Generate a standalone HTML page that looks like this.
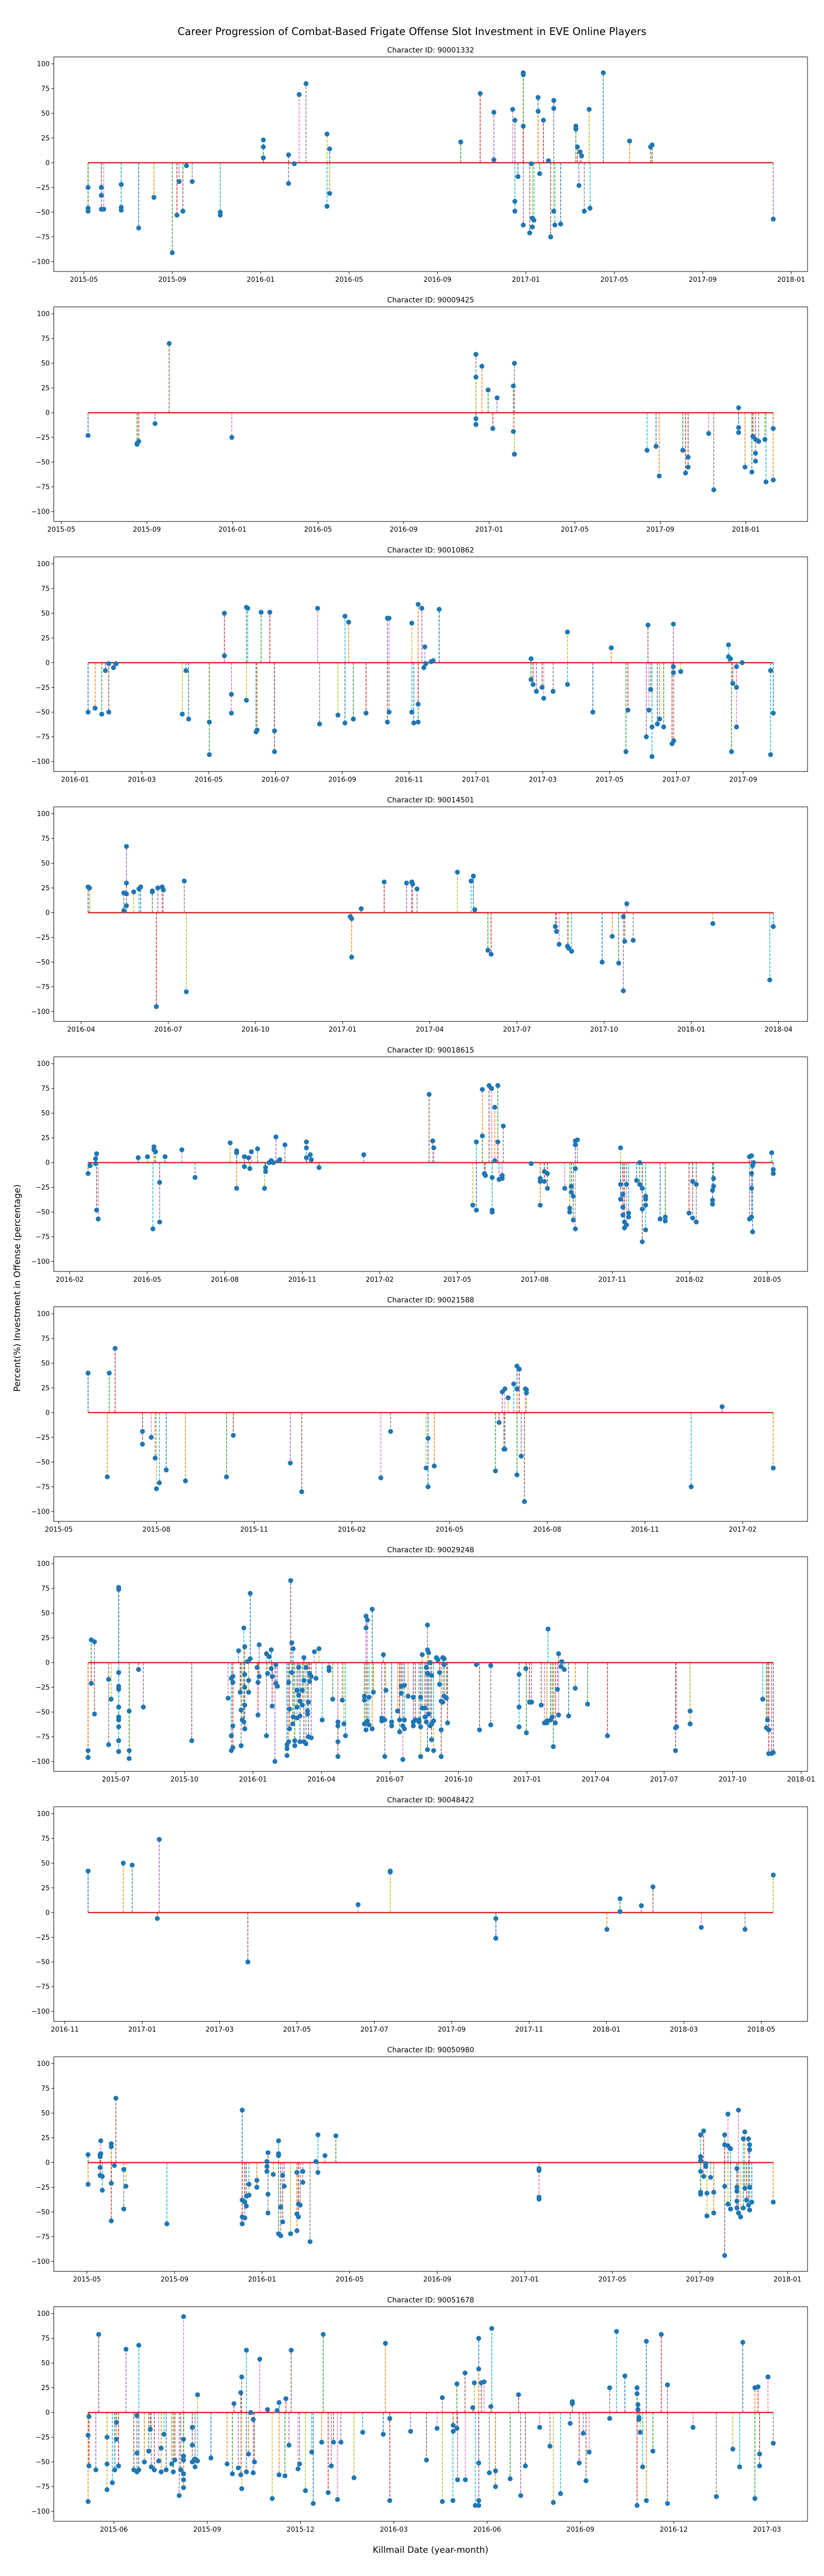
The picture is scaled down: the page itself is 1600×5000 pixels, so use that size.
<!DOCTYPE html>
<html>
<head>
<meta charset="utf-8">
<title>Career Progression of Combat-Based Frigate Offense Slot Investment</title>
<style>
  html, body { margin: 0; padding: 0; background: #ffffff; }
  svg { display: block; }
  text { font-family: "DejaVu Sans", "Liberation Sans", sans-serif; fill: #000; }
</style>
</head>
<body>
<svg id="fig" width="1600" height="5000" viewBox="0 0 1600 5000" xmlns="http://www.w3.org/2000/svg">
  <rect x="0" y="0" width="1600" height="5000" fill="#ffffff"/>
  <text x="800" y="68" font-size="20" text-anchor="middle">Career Progression of Combat-Based Frigate Offense Slot Investment in EVE Online Players</text>
  <text x="836" y="4955" font-size="17" text-anchor="middle">Killmail Date (year-month)</text>
  <text x="34" y="2500" font-size="17" text-anchor="middle" dominant-baseline="central" transform="rotate(-90 34 2500)">Percent(%) Investment in Offense (percentage)</text>
</svg>
<script>
// x values: months since 2015-01 (e.g. 4.5 = mid May 2015); y values: percent offense investment
const s1Ids = "90001332";
const s1Months = [4.19,4.19,4.19,4.79,4.79,4.79,4.90,5.69,5.69,5.69,6.48,7.17,8.0,8.21,8.31,8.48,8.64,8.90,10.17,10.17,12.12,12.12,12.12,13.26,13.26,13.52,13.74,14.05,15.0,15.0,15.12,15.12,21.05,21.93,22.55,22.55,23.40,23.5,23.5,23.5,23.64,23.88,23.88,23.88,23.88,24.17,24.24,24.29,24.29,24.36,24.55,24.55,24.62,24.79,25.02,25.12,25.26,25.26,25.26,25.31,25.57,26.26,26.26,26.33,26.40,26.45,26.52,26.64,26.86,26.90,27.50,28.69,29.64,29.71,35.19];
const s1Values = [-25,-46,-49,-25,-47,-33,-47,-48,-22,-45,-66,-35,-91,-53,-19,-49,-3,-19,-50,-53,5,16,23,8,-21,-1,69,80,29,-44,14,-31,21,70,51,3,54,43,-39,-49,-14,91,89,37,-63,-71,-1,-56,-65,-58,66,52,-11,43,2,-75,55,63,-49,-63,-62,37,34,16,-23,11,7,-49,54,-46,91,22,16,18,-57];
const s1Ticks = ["2015-05","2015-09","2016-01","2016-05","2016-09","2017-01","2017-05","2017-09","2018-01"];

const s2Ids = "90009425";
const s2Months = [5.25,7.54,7.54,7.62,8.38,9.04,11.97,23.38,23.38,23.38,23.38,23.66,23.95,24.17,24.37,25.13,25.13,25.18,25.18,31.38,31.80,31.95,33.05,33.18,33.30,33.30,34.26,34.50,35.66,35.66,35.66,35.96,36.28,36.33,36.45,36.45,36.45,36.60,36.89,36.94,37.28,37.28];
const s2Values = [-23,-31,-32,-29,-11,70,-25,59,36,-6,-12,47,23,-16,15,27,-19,50,-42,-38,-34,-64,-38,-61,-45,-55,-21,-78,5,-15,-20,-55,-60,-24,-27,-41,-49,-29,-27,-70,-16,-68];
const s2Ticks = ["2015-05","2015-09","2016-01","2016-05","2016-09","2017-01","2017-05","2017-09","2018-01"];

const s3Ids = "90010862";
const s3Months = [12.39,12.60,12.80,12.91,13.01,13.01,13.15,13.23,15.21,15.32,15.40,16.02,16.02,16.47,16.47,16.68,16.68,17.13,17.13,17.17,17.42,17.45,17.57,17.83,17.97,17.97,19.26,19.32,19.87,20.08,20.08,20.19,20.33,20.71,21.35,21.35,21.40,21.40,22.08,22.08,22.14,22.27,22.27,22.27,22.38,22.44,22.47,22.50,22.66,22.72,22.90,25.65,25.65,25.71,25.81,25.98,26.03,26.31,26.74,26.74,27.50,28.05,28.49,28.55,29.10,29.15,29.18,29.23,29.27,29.27,29.43,29.50,29.62,29.87,29.91,29.91,29.91,29.92,30.13,31.56,31.56,31.62,31.65,31.69,31.80,31.80,31.80,31.97,32.82,32.82,32.90];
const s3Values = [-50,-46,-52,-8,-1,-50,-5,-1,-52,-8,-57,-60,-93,50,7,-32,-51,56,-38,55,-70,-68,51,51,-69,-90,55,-62,-53,47,-61,41,-57,-51,45,-60,45,-50,40,-50,-61,59,-60,-42,55,-5,16,-1,1,2,54,4,-17,-22,-29,-25,-36,-29,31,-22,-50,15,-90,-48,-75,38,-48,-27,-65,-95,-62,-57,-65,-82,39,-4,-10,-79,-9,18,6,4,-90,-21,-4,-25,-65,0,-8,-93,-51];
const s3Ticks = ["2016-01","2016-03","2016-05","2016-07","2016-09","2016-11","2017-01","2017-03","2017-05","2017-07","2017-09"];

const s4Ids = "90014501";
const s4Months = [15.24,15.29,16.47,16.47,16.56,16.56,16.56,16.56,16.81,16.99,17.05,17.45,17.45,17.59,17.64,17.79,17.83,18.55,18.62,24.26,24.31,24.31,24.64,25.43,26.20,26.38,26.41,26.56,27.95,28.42,28.50,28.55,29.0,29.11,31.32,31.36,31.45,31.74,31.78,31.88,32.93,33.28,33.50,33.66,33.66,33.71,33.78,34.0,36.74,38.70,38.82];
const s4Values = [26,25,20,2,67,30,19,7,21,24,26,22,21,-95,25,26,23,32,-80,-4,-6,-45,4,31,30,31,29,24,41,32,37,3,-38,-42,-14,-19,-32,-34,-36,-39,-50,-24,-51,-4,-79,-29,9,-28,-11,-68,-14];
const s4Ticks = ["2016-04","2016-07","2016-10","2017-01","2017-04","2017-07","2017-10","2018-01","2018-04"];

const s5Ids = "90018615";
const s5Months = [13.71,13.79,14.0,14.0,14.04,14.04,14.10,15.65,16.01,16.22,16.26,16.26,16.32,16.48,16.48,16.69,17.34,17.85,19.21,19.46,19.46,19.46,19.76,19.76,19.92,19.97,20.03,20.27,20.54,20.58,20.58,20.72,20.80,20.88,20.98,21.09,21.13,21.33,22.16,22.16,22.16,22.31,22.35,22.65,24.38,26.91,27.05,27.09,28.60,28.74,28.74,28.97,28.97,29.05,29.09,29.23,29.33,29.35,29.35,29.35,29.45,29.45,29.57,29.57,29.62,29.74,29.74,29.78,30.86,31.21,31.21,31.21,31.37,31.37,31.49,31.49,32.16,32.35,32.35,32.41,32.41,32.49,32.49,32.57,32.57,32.57,32.57,32.65,34.32,34.32,34.32,34.41,34.41,34.41,34.47,34.47,34.55,34.55,34.63,34.63,34.94,35.06,35.06,35.16,35.16,35.16,35.29,35.29,35.29,35.29,35.85,36.05,36.05,36.97,37.11,37.11,37.25,37.25,37.88,37.88,37.88,37.92,37.92,39.31,39.31,39.39,39.39,39.39,39.39,39.43,39.43,39.47,40.17,40.23,40.23];
const s5Values = [-11,-3,4,-1,9,-48,-57,5,6,-67,16,13,11,-20,-60,6,13,-15,20,12,10,-26,6,-4,5,-6,11,14,-26,-9,-5,0,2,0,26,2,3,18,21,15,5,8,3,-5,8,69,22,15,-43,21,-48,74,27,-11,-13,78,75,-15,-50,-48,2,56,78,21,-17,-13,-16,37,-1,-16,-19,-43,-9,-19,-11,-26,-26,-50,-46,-24,-30,-34,-58,18,22,-6,-67,23,15,-22,-37,-32,-45,-53,-60,-66,-63,-22,-51,-55,-18,0,-22,-26,-47,-80,-34,-37,-43,-68,-57,-55,-59,-51,-19,-56,-22,-60,-28,-38,-42,-16,-24,6,-57,7,-26,-55,-11,-3,-70,0,10,-7,-11];
const s5Ticks = ["2016-02","2016-05","2016-08","2016-11","2017-02","2017-05","2017-08","2017-11","2018-02","2018-05"];

const s6Ids = "90021588";
const s6Months = [4.90,5.49,5.55,5.73,6.57,6.57,6.84,6.96,7.00,7.09,7.30,7.89,9.15,9.36,11.11,11.46,13.89,14.19,15.28,15.34,15.34,15.53,17.41,17.52,17.62,17.67,17.70,17.70,17.80,17.97,18.07,18.07,18.07,18.14,18.20,18.30,18.33,18.36,18.36,23.42,24.37,25.94];
const s6Values = [40,-65,40,65,-19,-32,-25,-46,-77,-71,-58,-69,-65,-23,-51,-80,-66,-19,-56,-26,-75,-54,-59,-10,21,-37,24,-37,15,29,47,24,-63,44,-44,-90,24,20,23,-75,6,-56];
const s6Ticks = ["2015-05","2015-08","2015-11","2016-02","2016-05","2016-08","2016-11","2017-02"];

const s7Ids = "90029248";
const s7Months = [4.78,4.78,4.92,4.92,5.06,5.06,5.68,5.68,5.79,6.12,6.12,6.12,6.12,6.12,6.12,6.12,6.12,6.12,6.12,6.12,6.58,6.58,6.58,6.99,7.20,9.32,10.91,11.05,11.05,11.05,11.12,11.12,11.12,11.12,11.37,11.44,11.48,11.48,11.53,11.60,11.60,11.64,11.64,11.64,11.64,11.64,11.76,11.81,11.81,11.88,11.88,12.18,12.22,12.22,12.27,12.27,12.59,12.59,12.64,12.71,12.80,12.80,12.84,12.84,12.96,13.0,13.0,13.07,13.49,13.49,13.49,13.56,13.56,13.60,13.60,13.65,13.70,13.70,13.74,13.76,13.76,13.83,13.83,13.93,13.93,13.93,14.0,14.0,14.06,14.06,14.06,14.16,14.16,14.23,14.23,14.23,14.32,14.32,14.39,14.39,14.43,14.43,14.48,14.48,14.55,14.55,14.69,14.76,14.89,15.03,15.33,15.33,15.49,15.72,15.72,15.72,15.72,15.91,15.98,16.05,16.88,16.88,16.88,16.95,16.95,16.95,17.01,17.01,17.08,17.08,17.22,17.22,17.27,17.64,17.64,17.71,17.77,17.77,17.82,18.07,18.07,18.33,18.42,18.42,18.49,18.49,18.56,18.56,18.63,18.63,18.63,18.79,19.02,19.02,19.02,19.11,19.27,19.27,19.34,19.34,19.34,19.41,19.41,19.53,19.53,19.59,19.59,19.64,19.64,19.64,19.64,19.69,19.69,19.76,19.76,19.82,19.82,19.82,19.91,19.91,20.03,20.10,20.17,20.17,20.24,20.24,20.24,20.31,20.31,20.37,20.37,20.37,20.47,20.52,21.78,21.92,22.41,22.41,23.65,23.65,23.65,23.95,23.97,24.11,24.20,24.62,24.76,24.87,24.87,24.92,25.03,25.10,25.15,25.24,25.33,25.38,25.38,25.49,25.52,25.63,25.82,26.11,26.65,27.52,30.50,30.50,30.55,31.14,31.14,34.32,34.48,34.53,34.58,34.58,34.70,34.78];
const s7Values = [-89,-96,23,-21,21,-52,-17,-83,-37,76,74,-10,-24,-27,-45,-55,-58,-65,-79,-90,-49,-89,-97,-7,-45,-79,-36,-89,-16,-74,-14,-20,-64,-86,12,-30,-48,-84,-58,35,-60,16,-12,-25,-43,-67,1,-18,-30,4,70,-5,-20,-53,18,-14,9,-74,-11,6,13,-6,-14,-44,-100,-2,-21,-24,-94,-87,-83,-80,-20,-47,-67,83,20,-10,-62,14,-55,-84,-79,-45,-56,-28,-33,-5,-54,-39,-80,-43,-28,5,-18,-80,-5,-82,-49,-52,-75,-40,-11,-19,-76,-14,11,-16,14,-58,-8,-5,-37,-64,-80,-95,-60,-38,-62,-74,-34,-38,-62,47,35,-68,43,-59,-35,-63,54,-67,-30,-56,-59,8,-58,-95,-28,-60,-64,-49,-70,-58,-24,-31,-98,-64,-58,-67,-23,-34,-35,-60,-64,-58,-58,-60,-95,-35,-65,8,-46,-46,-55,-5,-60,38,13,-11,-88,10,-52,0,-64,-78,-13,-62,-89,-59,5,3,-22,-10,-68,-95,-39,5,-40,4,-34,-2,-36,-61,-2,-68,-3,-63,-12,-65,-45,-6,-71,-40,-40,-43,-61,-59,-61,34,-58,-55,-85,-61,-27,9,-53,-4,1,-7,-54,-26,-42,-74,-66,-89,-65,-49,-62,-37,-66,-58,-68,-92,-92,-91];
const s7Ticks = ["2015-07","2015-10","2016-01","2016-04","2016-07","2016-10","2017-01","2017-04","2017-07","2017-10","2018-01"];

const s8Ids = "90048422";
const s8Months = [22.60,23.51,23.74,24.39,24.44,26.73,29.58,30.41,30.41,33.14,33.14,36.01,36.35,36.35,36.90,37.20,38.45,39.58,40.31];
const s8Values = [42,50,48,-6,74,-50,8,41,42,-6,-26,-17,14,1,7,26,-15,-17,38];
const s8Ticks = ["2016-11","2017-01","2017-03","2017-05","2017-07","2017-09","2017-11","2018-01","2018-03","2018-05"];

const s9Ids = "90050980";
const s9Months = [4.05,4.05,4.60,4.60,4.60,4.60,4.63,4.63,4.70,4.70,5.11,5.11,5.11,5.11,5.25,5.32,5.68,5.68,5.78,7.65,11.09,11.09,11.09,11.09,11.21,11.21,11.28,11.28,11.40,11.40,11.76,11.76,12.22,12.22,12.22,12.27,12.27,12.27,12.51,12.75,12.75,12.75,12.75,12.85,12.85,12.94,12.94,13.01,13.30,13.59,13.59,13.59,13.66,13.66,13.74,13.86,13.86,14.19,14.46,14.55,14.55,14.87,15.37,24.65,24.65,24.65,24.65,32.03,32.03,32.03,32.03,32.03,32.03,32.17,32.17,32.27,32.27,32.32,32.32,32.49,32.63,32.63,33.13,33.13,33.13,33.13,33.28,33.28,33.28,33.40,33.40,33.69,33.69,33.69,33.69,33.69,33.76,33.76,33.86,33.98,33.98,34.05,34.05,34.13,34.22,34.22,34.27,34.27,34.27,34.27,34.37,35.35];
const s9Values = [8,-22,8,6,-5,-13,22,9,-14,-28,19,16,-21,-59,-3,65,-7,-47,-24,-62,53,-38,-55,-62,-56,-40,-44,-34,-33,-22,-18,-25,1,-4,-9,10,-32,-51,-12,22,9,7,-72,-45,-74,-60,-13,-24,-72,-10,-52,-69,-42,-55,-43,-9,-20,-80,1,28,-10,7,27,-6,-8,-35,-37,6,2,28,-9,-30,-32,32,-14,-1,-4,-31,-54,-15,-30,-51,28,18,-24,-94,49,17,-42,14,-47,-6,-25,-29,-39,-46,53,-51,-55,24,-46,31,-26,-38,24,-43,13,18,-25,-48,-40,-40];
const s9Ticks = ["2015-05","2015-09","2016-01","2016-05","2016-09","2017-01","2017-05","2017-09","2018-01"];

const s10Ids = "90051678";
const s10Months = [4.17,4.17,4.20,4.20,4.42,4.51,4.78,4.78,4.78,4.95,5.03,5.08,5.08,5.15,5.39,5.64,5.74,5.74,5.74,5.80,5.80,5.98,6.12,6.17,6.20,6.30,6.44,6.52,6.52,6.61,6.68,6.86,6.91,6.96,7.10,7.15,7.24,7.24,7.24,7.24,7.24,7.24,7.24,7.52,7.52,7.52,7.61,7.61,7.69,7.69,8.12,8.64,8.81,8.86,9.0,9.08,9.08,9.11,9.11,9.26,9.26,9.33,9.40,9.48,9.48,9.52,9.69,9.94,10.09,10.25,10.31,10.31,10.50,10.53,10.63,10.70,10.92,10.97,11.16,11.36,11.41,11.68,11.73,11.89,11.99,12.06,12.19,12.30,12.72,13.0,13.66,13.73,13.87,13.87,14.54,15.05,15.39,15.56,15.56,15.90,15.91,15.91,16.03,16.03,16.05,16.29,16.30,16.54,16.59,16.62,16.73,16.73,16.73,16.73,16.73,16.81,16.90,17.07,17.12,17.15,17.27,17.27,17.74,18.01,18.08,18.23,18.69,19.02,19.13,19.36,19.67,19.74,19.74,19.96,20.09,20.18,20.28,20.94,20.94,21.16,21.43,21.82,21.82,21.82,21.85,21.85,21.88,21.88,21.92,22.0,22.12,22.12,22.33,22.60,22.80,22.80,23.62,24.37,24.90,25.12,25.22,25.61,25.61,25.71,25.76,25.76,26.03,26.20];
const s10Values = [-23,-90,-4,-54,-58,79,-25,-52,-78,-71,-58,-27,-10,-54,64,-58,-41,-60,-3,68,-58,-50,-39,-17,-55,-58,-49,-36,-60,-22,-58,-52,-60,-48,-84,-58,97,-27,-48,-62,-68,-76,-44,-15,-33,-50,-47,-55,18,-49,-46,-52,-62,9,-56,20,-63,36,-77,63,-60,-42,0,-7,-61,-50,54,3,-87,2,10,-63,-64,14,-33,63,-57,-52,-79,-40,-92,-30,79,-81,-54,-30,-88,-30,-66,-20,-22,70,-6,-89,-19,-48,-16,15,-90,-89,-13,-19,29,-16,-68,40,-68,5,30,-94,75,44,-51,-89,-94,30,31,-61,6,85,-59,-75,-67,18,-84,-54,-15,-34,-91,-82,-11,11,9,-51,-21,-69,-40,25,-6,82,37,19,25,-94,3,8,-5,-7,-20,-55,72,-89,-39,79,28,-92,-15,-85,-37,-55,71,25,-87,26,-42,-54,36,-31];
const s10Ticks = ["2015-06","2015-09","2015-12","2016-03","2016-06","2016-09","2016-12","2017-03"];

const panels = [
  {id: s1Ids, months: s1Months, values: s1Values, ticks: s1Ticks},
  {id: s2Ids, months: s2Months, values: s2Values, ticks: s2Ticks},
  {id: s3Ids, months: s3Months, values: s3Values, ticks: s3Ticks},
  {id: s4Ids, months: s4Months, values: s4Values, ticks: s4Ticks},
  {id: s5Ids, months: s5Months, values: s5Values, ticks: s5Ticks},
  {id: s6Ids, months: s6Months, values: s6Values, ticks: s6Ticks},
  {id: s7Ids, months: s7Months, values: s7Values, ticks: s7Ticks},
  {id: s8Ids, months: s8Months, values: s8Values, ticks: s8Ticks},
  {id: s9Ids, months: s9Months, values: s9Values, ticks: s9Ticks},
  {id: s10Ids, months: s10Months, values: s10Values, ticks: s10Ticks}
];
const yTicks = [-100, -75, -50, -25, 0, 25, 50, 75, 100];
const yMin = -110, yMax = 107;

const tab10 = ["#1f77b4","#ff7f0e","#2ca02c","#d62728","#9467bd","#8c564b","#e377c2","#7f7f7f","#bcbd22","#17becf"];
const NS = "http://www.w3.org/2000/svg";
const fig = document.getElementById("fig");

function mk(tag, attrs, parent) {
  const e = document.createElementNS(NS, tag);
  for (const k in attrs) e.setAttribute(k, attrs[k]);
  parent.appendChild(e);
  return e;
}
function tickMonth(label) {
  const p = label.split("-");
  return (parseInt(p[0], 10) - 2015) * 12 + (parseInt(p[1], 10) - 1);
}

const LEFT = 104.5, WIDTH = 1463.5, HEIGHT = 416.5, TOP0 = 110.5, PITCH = 485.2;

panels.forEach(function(p, k) {
  const top = TOP0 + PITCH * k;
  const g = mk("g", {}, fig);
  
  

  const n = Math.min(p.months.length, p.values.length);
  let xmin = Infinity, xmax = -Infinity;
  for (let i = 0; i < n; i++) { xmin = Math.min(xmin, p.months[i]); xmax = Math.max(xmax, p.months[i]); }
  const span = (xmax - xmin) || 1;
  const d0 = xmin - 0.05 * span, d1 = xmax + 0.05 * span;
  const xs = function(m) { return LEFT + (m - d0) / (d1 - d0) * WIDTH; };
  const ys = function(v) { return top + (yMax - v) / (yMax - yMin) * HEIGHT; };

  // title
  const t = mk("text", {x: LEFT + WIDTH / 2, y: top - 8.5, "font-size": 14, "text-anchor": "middle"}, g);
  t.textContent = "Character ID: " + p.id;
  
  

  // y ticks
  yTicks.forEach(function(v) {
    const y = ys(v);
    const l = mk("line", {x1: LEFT - 5, x2: LEFT, y1: y, y2: y, stroke: "#000", "stroke-width": 1}, g);
    
    
    const tx = mk("text", {x: LEFT - 8, y: y + 4.5, "font-size": 13, "text-anchor": "end"}, g);
    tx.textContent = String(v).replace("-", "\u2212");
    
    
  });

  // x ticks
  p.ticks.forEach(function(lbl) {
    const m = tickMonth(lbl);
    if (m < d0 || m > d1) return;
    const x = xs(m);
    const l = mk("line", {x1: x, x2: x, y1: top + HEIGHT, y2: top + HEIGHT + 5, stroke: "#000", "stroke-width": 1}, g);
    
    
    const tx = mk("text", {x: x, y: top + HEIGHT + 20, "font-size": 13, "text-anchor": "middle"}, g);
    tx.textContent = lbl;
    
    
  });

  const y0 = ys(0);
  // stems
  for (let i = 0; i < n; i++) {
    const x = xs(p.months[i]);
    const s = mk("line", {x1: x, x2: x, y1: y0, y2: ys(p.values[i]), stroke: tab10[i % 10], "stroke-width": 1.5, "stroke-dasharray": "5.5 2.4"}, g);
    
    
  }
  // baseline
  const b = mk("line", {x1: xs(xmin), x2: xs(xmax), y1: y0, y2: y0, stroke: "#d62728", "stroke-width": 2.5}, g);
  
  
  // markers
  for (let i = 0; i < n; i++) {
    const c = mk("circle", {cx: xs(p.months[i]), cy: ys(p.values[i]), r: 4.8, fill: "#1f77b4"}, g);
    
    
  }
  // frame
  const f = mk("rect", {x: LEFT, y: top, width: WIDTH, height: HEIGHT, fill: "none", stroke: "#000", "stroke-width": 1}, g);
  
  
});
</script>
</body>
</html>
